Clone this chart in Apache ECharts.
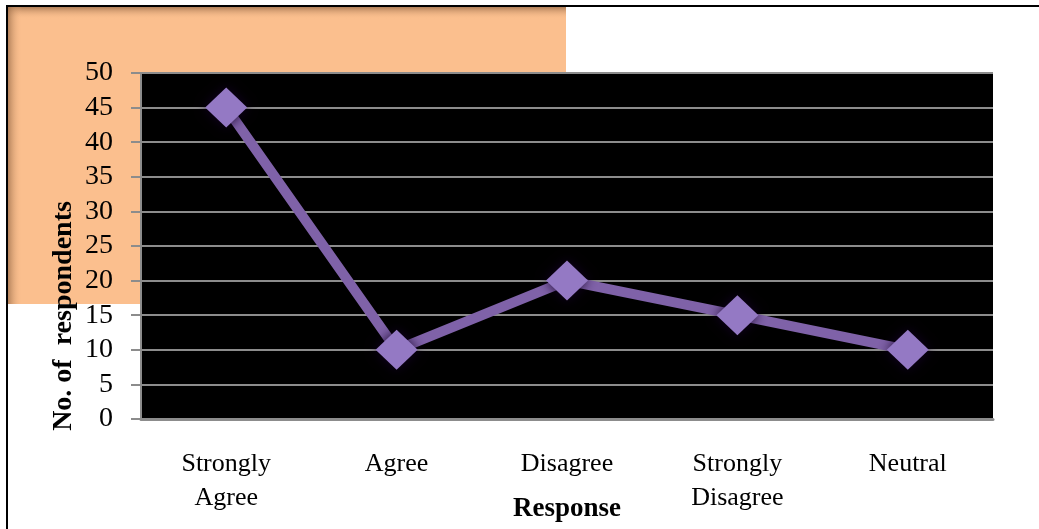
<!DOCTYPE html>
<html>
<head>
    <meta charset="utf-8">
    <title>Response chart</title>
    <script src="https://cdn.jsdelivr.net/npm/echarts@6/dist/echarts.min.js"></script>
    <style>
        html, body { margin: 0; padding: 0; background: #fff; }
    </style>
</head>
<body>
    <div id="main" style="width: 1039px;height:529px;"></div>
    <script type="text/javascript">
        var categories = ['Strongly\nAgree', 'Agree', 'Disagree', 'Strongly\nDisagree', 'Neutral'];
        var respondents = [45, 10, 20, 15, 10];
        var yTicks = { min: 0, max: 50, step: 5 };

        var serif = '"Liberation Serif", "DejaVu Serif", serif';
        var myChart = echarts.init(document.getElementById('main'));

        var option = {
            backgroundColor: '#fff',
            animation: false,
            graphic: [
                // orange block behind the top-left of the plot
                { type: 'rect', z: -10, shape: { x: 8, y: 7, width: 558, height: 297 }, style: { fill: '#FBBF8E' } },
                { type: 'rect', z: -9, shape: { x: 8, y: 7, width: 558, height: 12 },
                  style: { fill: new echarts.graphic.LinearGradient(0, 0, 0, 1, [
                      { offset: 0, color: 'rgba(150,105,70,0.75)' }, { offset: 1, color: 'rgba(251,191,142,0)' }]) } },
                { type: 'rect', z: -9, shape: { x: 8, y: 7, width: 14, height: 297 },
                  style: { fill: new echarts.graphic.LinearGradient(0, 0, 1, 0, [
                      { offset: 0, color: 'rgba(150,105,70,0.7)' }, { offset: 1, color: 'rgba(251,191,142,0)' }]) } },
                // outer frame (top and left edges)
                { type: 'line', z: 10, shape: { x1: 6, y1: 6, x2: 1039, y2: 6 }, style: { stroke: '#000', lineWidth: 2 } },
                { type: 'line', z: 10, shape: { x1: 7, y1: 6, x2: 7, y2: 529 }, style: { stroke: '#000', lineWidth: 2 } },
                // y axis title
                { type: 'text', z: 10, x: 64, y: 316, rotation: Math.PI / 2,
                  style: { text: 'No. of  respondents', fill: '#000', font: 'bold 28px ' + serif,
                           textAlign: 'center', textVerticalAlign: 'middle' } }
            ],
            grid: {
                left: 141,
                right: 46,
                top: 73,
                bottom: 110,
                outerBoundsMode: 'none',
                containLabel: false,
                show: true,
                backgroundColor: '#000',
                borderWidth: 0
            },
            xAxis: {
                type: 'category',
                data: categories,
                boundaryGap: true,
                name: 'Response',
                nameLocation: 'middle',
                nameGap: 77,
                nameMoveOverlap: false,
                nameTextStyle: { fontFamily: serif, fontWeight: 'bold', fontSize: 27, color: '#000' },
                axisLine: { lineStyle: { color: '#8c8c8c', width: 3 } },
                axisTick: { show: false },
                axisLabel: { margin: 28, fontFamily: serif, fontSize: 26, color: '#000', lineHeight: 34, interval: 0 }
            },
            yAxis: {
                type: 'value',
                min: yTicks.min,
                max: yTicks.max,
                interval: yTicks.step,
                axisLine: { show: true, lineStyle: { color: '#8c8c8c', width: 2 } },
                axisTick: { show: true, length: 10, lineStyle: { color: '#8c8c8c', width: 2 } },
                axisLabel: { margin: 28, fontFamily: serif, fontSize: 28, color: '#000' },
                splitLine: { lineStyle: { color: '#8c8c8c', width: 2 } }
            },
            series: [
                {
                    name: 'No. of respondents',
                    type: 'line',
                    data: respondents,
                    symbol: 'diamond',
                    symbolSize: [42, 40],
                    lineStyle: { color: '#7F62A8', width: 10 },
                    itemStyle: {
                        color: '#9479C4',
                        shadowBlur: 12,
                        shadowColor: 'rgba(20,0,40,0.9)'
                    }
                }
            ]
        };

        myChart.setOption(option);
    </script>
</body>
</html>
